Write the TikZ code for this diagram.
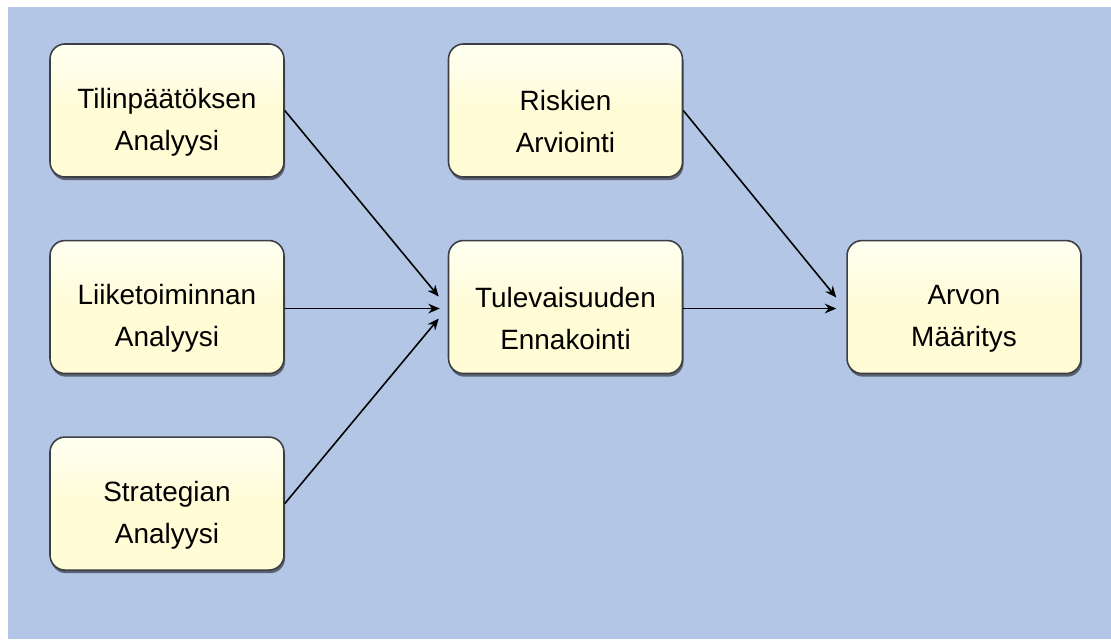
\documentclass[tikz,border=0pt]{standalone}
\usepackage{fontspec}
\setmainfont{Liberation Sans}
\usepackage{tikz}
\usetikzlibrary{arrows.meta,positioning,calc,shadows}

\definecolor{bgblue}{RGB}{179,198,230}
\definecolor{boxcream}{RGB}{255,252,214}
\definecolor{boxtop}{RGB}{255,255,242}
\definecolor{boxline}{RGB}{60,62,68}

% strut that pushes the two lines a bit down in the box
\newcommand{\lowstrut}{\rule{0pt}{24.5pt}}

\begin{document}
\begin{tikzpicture}[x=0.02cm,y=-0.02cm,
    stage/.style={rectangle,rounded corners=0.3cm,draw=boxline,line width=0.9pt,
        top color=boxtop,bottom color=boxcream,middle color=boxcream,
        minimum width=4.68cm,minimum height=2.66cm,align=center,
        font=\fontsize{15.9}{23.9}\selectfont,
        drop shadow={shadow xshift=0.6pt,shadow yshift=-1.8pt,fill=black,opacity=0.5}},
    flow/.style={-{Stealth[length=6.5pt,width=5.5pt]},line width=0.9pt,black}]
    % Background
    \useasboundingbox (0,0) rectangle (1111,639);
    \fill[white] (0,0) rectangle (1111,639);
    \fill[bgblue] (8,7) rectangle (1111,639);

    % Analysis boxes
    \node[stage] (tilin) at (167,110.5) {\lowstrut Tilinpäätöksen\\Analyysi};
    \node[stage,below=1.24cm of tilin] (liike) {\lowstrut Liiketoiminnan\\Analyysi};
    \node[stage,below=1.24cm of liike] (strat) {\lowstrut Strategian\\Analyysi};

    % Forecast and valuation
    \node[stage,right=3.26cm of tilin] (riski) {\lowstrut Riskien\\Arviointi};
    \node[stage,right=3.26cm of liike] (tulev) {\lowstrut Tulevaisuuden\\Ennakointi};
    \node[stage,right=3.26cm of tulev] (arvo) {\lowstrut Arvon\\Määritys};

    % Arrow ends
    \coordinate (t1) at ($(tulev.west)+(-9,-10.5)$);
    \coordinate (t2) at ($(tulev.west)+(-8,1.5)$);
    \coordinate (t3) at ($(tulev.west)+(-9,11.5)$);
    \coordinate (a1) at ($(arvo.west)+(-10,-9.5)$);
    \coordinate (a2) at ($(arvo.west)+(-10,1.5)$);

    % Arrows
    \draw[flow] (tilin.east) -- (t1);
    \draw[flow] ($(liike.east)+(0,1.5)$) -- (t2);
    \draw[flow] (strat.east) -- (t3);
    \draw[flow] (riski.east) -- (a1);
    \draw[flow] ($(tulev.east)+(0,1.5)$) -- (a2);
\end{tikzpicture}
\end{document}
